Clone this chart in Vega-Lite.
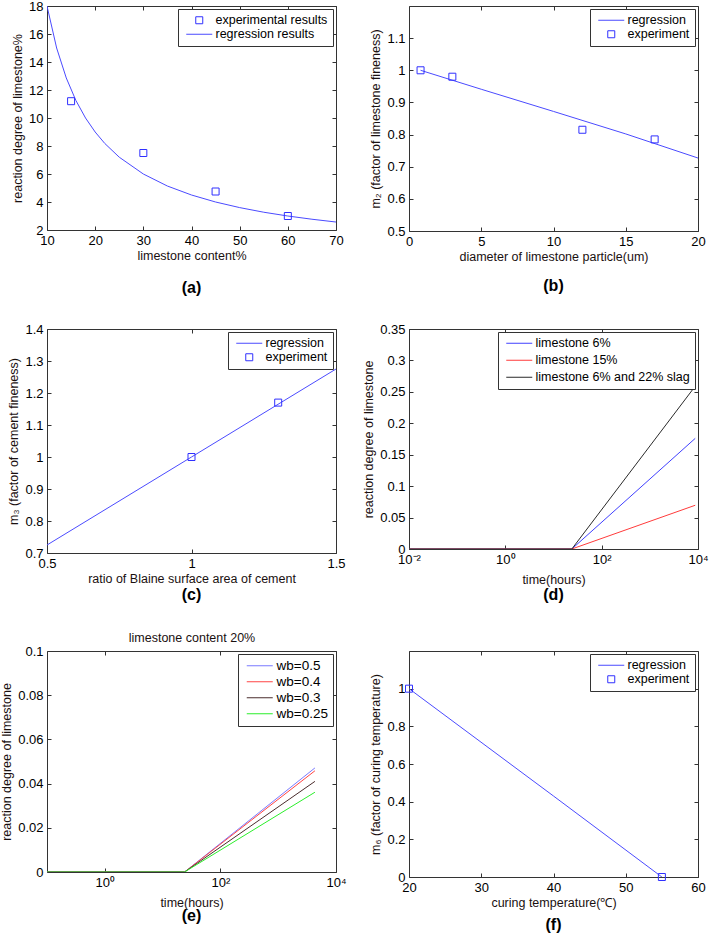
{
  "$schema": "https://vega.github.io/schema/vega-lite/v6.json",
  "background": "white",
  "padding": {"left": 0, "top": -1, "right": 0, "bottom": 0},
  "config": {
    "font": "Liberation Sans",
    "view": {"stroke": "#333333", "strokeWidth": 1},
    "axis": {
      "grid": false, "domain": false, "ticks": true, "tickSize": -4, "tickColor": "#333333",
      "labelFont": "Liberation Sans", "labelFontSize": 13, "labelColor": "#000000", "labelPadding": 8,
      "labelFlush": false, "labelOverlap": false, "labelBound": false,
      "titleFont": "Liberation Sans", "titleFontSize": 12.5, "titleFontWeight": "normal", "titleColor": "#1a1010", "titlePadding": 4
    },
    "axisX": {"titlePadding": 2},
    "legend": {
      "orient": "top-right", "offset": 3, "strokeColor": "#333333", "fillColor": "white", "padding": 5,
      "labelFont": "Liberation Sans", "labelFontSize": 12.5, "labelColor": "#000000",
      "symbolSize": 100, "symbolOffset": 10, "labelOffset": 10, "rowPadding": 1, "symbolStrokeWidth": 1,
      "symbolType": "M-2.6,0H2.6"
    },
    "title": {"font": "Liberation Sans", "color": "#000000"}
  },
  "datasets": {
    "a_reg": [
      {"x": 10, "y": 18, "s": "regression results"}, {"x": 12, "y": 15, "s": "regression results"},
      {"x": 14, "y": 12.86, "s": "regression results"}, {"x": 16, "y": 11.25, "s": "regression results"},
      {"x": 18, "y": 10, "s": "regression results"}, {"x": 20, "y": 9, "s": "regression results"},
      {"x": 22, "y": 8.18, "s": "regression results"}, {"x": 25, "y": 7.2, "s": "regression results"},
      {"x": 30, "y": 6, "s": "regression results"}, {"x": 35, "y": 5.14, "s": "regression results"},
      {"x": 40, "y": 4.5, "s": "regression results"}, {"x": 45, "y": 4, "s": "regression results"},
      {"x": 50, "y": 3.6, "s": "regression results"}, {"x": 55, "y": 3.27, "s": "regression results"},
      {"x": 60, "y": 3, "s": "regression results"}, {"x": 65, "y": 2.77, "s": "regression results"},
      {"x": 70, "y": 2.57, "s": "regression results"}
    ],
    "a_exp": [
      {"x": 15, "y": 11.2, "s": "experimental results"}, {"x": 30, "y": 7.5, "s": "experimental results"},
      {"x": 45, "y": 4.75, "s": "experimental results"}, {"x": 60, "y": 3.0, "s": "experimental results"}
    ],
    "b_reg": [
      {"x": 0.8, "y": 1.0, "s": "regression"}, {"x": 5, "y": 0.941, "s": "regression"},
      {"x": 10, "y": 0.872, "s": "regression"}, {"x": 15, "y": 0.802, "s": "regression"},
      {"x": 20, "y": 0.727, "s": "regression"}
    ],
    "b_exp": [
      {"x": 0.8, "y": 1.0, "s": "experiment"}, {"x": 3, "y": 0.98, "s": "experiment"},
      {"x": 12, "y": 0.815, "s": "experiment"}, {"x": 17, "y": 0.785, "s": "experiment"}
    ],
    "c_reg": [
      {"x": 0.5, "y": 0.725, "s": "regression"}, {"x": 1.0, "y": 1.0, "s": "regression"},
      {"x": 1.5, "y": 1.275, "s": "regression"}
    ],
    "c_exp": [
      {"x": 1.0, "y": 1.0, "s": "experiment"}, {"x": 1.3, "y": 1.17, "s": "experiment"}
    ],
    "d_lines": [
      {"t": 0.01, "v": 0, "s": "limestone 6%"}, {"t": 24, "v": 0, "s": "limestone 6%"}, {"t": 8760, "v": 0.176, "s": "limestone 6%"},
      {"t": 0.01, "v": 0, "s": "limestone 15%"}, {"t": 24, "v": 0, "s": "limestone 15%"}, {"t": 8760, "v": 0.0696, "s": "limestone 15%"},
      {"t": 0.01, "v": 0, "s": "limestone 6% and 22% slag"}, {"t": 24, "v": 0, "s": "limestone 6% and 22% slag"}, {"t": 8760, "v": 0.259, "s": "limestone 6% and 22% slag"}
    ],
    "e_lines": [
      {"t": 0.1, "v": 0, "s": "wb=0.5"}, {"t": 24, "v": 0, "s": "wb=0.5"}, {"t": 4320, "v": 0.0471, "s": "wb=0.5"},
      {"t": 0.1, "v": 0, "s": "wb=0.4"}, {"t": 24, "v": 0, "s": "wb=0.4"}, {"t": 4320, "v": 0.0458, "s": "wb=0.4"},
      {"t": 0.1, "v": 0, "s": "wb=0.3"}, {"t": 24, "v": 0, "s": "wb=0.3"}, {"t": 4320, "v": 0.041, "s": "wb=0.3"},
      {"t": 0.1, "v": 0, "s": "wb=0.25"}, {"t": 24, "v": 0, "s": "wb=0.25"}, {"t": 4320, "v": 0.0361, "s": "wb=0.25"}
    ],
    "f_reg": [
      {"x": 20, "y": 1.0, "s": "regression"}, {"x": 40, "y": 0.43, "s": "regression"},
      {"x": 55, "y": 0.0, "s": "regression"}
    ],
    "f_exp": [
      {"x": 20, "y": 1.0, "s": "experiment"}, {"x": 55, "y": 0.0, "s": "experiment"}
    ]
  },
  "columns": 2,
  "spacing": {"row": 98, "column": 73},
  "bounds": "flush",
  "align": "each",
  "resolve": {
    "scale": {"x": "independent", "y": "independent", "color": "independent", "shape": "independent"},
    "axis": {"x": "independent", "y": "independent"},
    "legend": {"color": "independent", "shape": "independent"}
  },
  "concat": [
    {
      "width": 289, "height": 224,
      "title": {"text": "(a)", "orient": "bottom", "fontSize": 16, "fontWeight": "bold", "frame": "group", "anchor": "middle", "offset": 18},
      "resolve": {"axis": {"x": "independent", "y": "independent"}},
      "layer": [
        {
          "data": {"name": "a_reg"},
          "mark": {"type": "line", "strokeWidth": 1, "clip": true},
          "encoding": {
            "x": {"field": "x", "type": "quantitative", "scale": {"domain": [10, 70], "nice": false, "zero": false}, "axis": {"values": [10, 20, 30, 40, 50, 60, 70], "title": "limestone content%"}},
            "y": {"field": "y", "type": "quantitative", "scale": {"domain": [2, 18], "nice": false, "zero": false}, "axis": {"values": [2, 4, 6, 8, 10, 12, 14, 16, 18], "title": "reaction degree of limestone%"}},
            "color": {"field": "s", "type": "nominal", "scale": {"domain": ["experimental results", "regression results"], "range": ["#3030ff", "#4b4bff"]}, "legend": {"title": null}}
          }
        },
        {
          "data": {"name": "a_exp"},
          "mark": {"type": "point", "filled": false, "size": 100, "strokeWidth": 1, "opacity": 1, "clip": true},
          "encoding": {
            "x": {"field": "x", "type": "quantitative", "axis": null},
            "y": {"field": "y", "type": "quantitative", "axis": null},
            "color": {"field": "s", "type": "nominal", "scale": {"domain": ["experimental results", "regression results"], "range": ["#3030ff", "#4b4bff"]}, "legend": {"title": null}},
            "shape": {"field": "s", "type": "nominal", "scale": {"domain": ["experimental results", "regression results"], "range": ["M-0.7,-0.7H0.7V0.7H-0.7Z", "M-2.6,0H2.6"]}, "legend": {"title": null}}
          }
        },
        {
          "data": {"name": "a_exp"},
          "mark": {"type": "point", "opacity": 0},
          "encoding": {
            "x": {"field": "x", "type": "quantitative", "axis": {"orient": "top", "labels": false, "title": null, "values": [10, 20, 30, 40, 50, 60, 70]}},
            "y": {"field": "y", "type": "quantitative", "axis": {"orient": "right", "labels": false, "title": null, "values": [2, 4, 6, 8, 10, 12, 14, 16, 18]}}
          }
        }
      ]
    },
    {
      "width": 289, "height": 225,
      "title": {"text": "(b)", "orient": "bottom", "fontSize": 16, "fontWeight": "bold", "frame": "group", "anchor": "middle", "offset": 15},
      "resolve": {"axis": {"x": "independent", "y": "independent"}},
      "layer": [
        {
          "data": {"name": "b_reg"},
          "mark": {"type": "line", "strokeWidth": 1, "clip": true},
          "encoding": {
            "x": {"field": "x", "type": "quantitative", "scale": {"domain": [0, 20], "nice": false, "zero": false}, "axis": {"values": [0, 5, 10, 15, 20], "title": "diameter of limestone particle(um)"}},
            "y": {"field": "y", "type": "quantitative", "scale": {"domain": [0.5, 1.2], "nice": false, "zero": false}, "axis": {"values": [0.5, 0.6, 0.7, 0.8, 0.9, 1.0, 1.1], "format": "~g", "title": "m₂ (factor of limestone fineness)"}},
            "color": {"field": "s", "type": "nominal", "scale": {"domain": ["regression", "experiment"], "range": ["#4b4bff", "#3030ff"]}, "legend": {"title": null}}
          }
        },
        {
          "data": {"name": "b_exp"},
          "mark": {"type": "point", "filled": false, "size": 100, "strokeWidth": 1, "opacity": 1, "clip": true},
          "encoding": {
            "x": {"field": "x", "type": "quantitative", "axis": null},
            "y": {"field": "y", "type": "quantitative", "axis": null},
            "color": {"field": "s", "type": "nominal", "scale": {"domain": ["regression", "experiment"], "range": ["#4b4bff", "#3030ff"]}, "legend": {"title": null}},
            "shape": {"field": "s", "type": "nominal", "scale": {"domain": ["regression", "experiment"], "range": ["M-2.6,0H2.6", "M-0.7,-0.7H0.7V0.7H-0.7Z"]}, "legend": {"title": null}}
          }
        },
        {
          "data": {"name": "b_exp"},
          "mark": {"type": "point", "opacity": 0},
          "encoding": {
            "x": {"field": "x", "type": "quantitative", "axis": {"orient": "top", "labels": false, "title": null, "values": [0, 5, 10, 15, 20]}},
            "y": {"field": "y", "type": "quantitative", "axis": {"orient": "right", "labels": false, "title": null, "values": [0.5, 0.6, 0.7, 0.8, 0.9, 1.0, 1.1]}}
          }
        }
      ]
    },
    {
      "width": 289, "height": 224,
      "title": {"text": "(c)", "orient": "bottom", "fontSize": 16, "fontWeight": "bold", "frame": "group", "anchor": "middle", "offset": 2},
      "resolve": {"axis": {"x": "independent", "y": "independent"}},
      "layer": [
        {
          "data": {"name": "c_reg"},
          "mark": {"type": "line", "strokeWidth": 1, "clip": true},
          "encoding": {
            "x": {"field": "x", "type": "quantitative", "scale": {"domain": [0.5, 1.5], "nice": false, "zero": false}, "axis": {"values": [0.5, 1, 1.5], "format": "~g", "title": "ratio of Blaine surface area of cement"}},
            "y": {"field": "y", "type": "quantitative", "scale": {"domain": [0.7, 1.4], "nice": false, "zero": false}, "axis": {"values": [0.7, 0.8, 0.9, 1.0, 1.1, 1.2, 1.3, 1.4], "format": "~g", "title": "m₃ (factor of cement fineness)"}},
            "color": {"field": "s", "type": "nominal", "scale": {"domain": ["regression", "experiment"], "range": ["#4b4bff", "#3030ff"]}, "legend": {"title": null}}
          }
        },
        {
          "data": {"name": "c_exp"},
          "mark": {"type": "point", "filled": false, "size": 100, "strokeWidth": 1, "opacity": 1, "clip": true},
          "encoding": {
            "x": {"field": "x", "type": "quantitative", "axis": null},
            "y": {"field": "y", "type": "quantitative", "axis": null},
            "color": {"field": "s", "type": "nominal", "scale": {"domain": ["regression", "experiment"], "range": ["#4b4bff", "#3030ff"]}, "legend": {"title": null}},
            "shape": {"field": "s", "type": "nominal", "scale": {"domain": ["regression", "experiment"], "range": ["M-2.6,0H2.6", "M-0.7,-0.7H0.7V0.7H-0.7Z"]}, "legend": {"title": null}}
          }
        },
        {
          "data": {"name": "c_exp"},
          "mark": {"type": "point", "opacity": 0},
          "encoding": {
            "x": {"field": "x", "type": "quantitative", "axis": {"orient": "top", "labels": false, "title": null, "values": [0.5, 1, 1.5]}},
            "y": {"field": "y", "type": "quantitative", "axis": {"orient": "right", "labels": false, "title": null, "values": [0.7, 0.8, 0.9, 1.0, 1.1, 1.2, 1.3, 1.4]}}
          }
        }
      ]
    },
    {
      "width": 289, "height": 220,
      "title": {"text": "(d)", "orient": "bottom", "fontSize": 16, "fontWeight": "bold", "frame": "group", "anchor": "middle", "offset": 1},
      "resolve": {"axis": {"x": "independent", "y": "independent"}},
      "layer": [
        {
          "data": {"name": "d_lines"},
          "mark": {"type": "line", "strokeWidth": 1, "clip": true},
          "encoding": {
            "x": {"field": "t", "type": "quantitative", "scale": {"type": "log", "domain": [0.01, 10000], "nice": false}, "axis": {"values": [0.01, 1, 100, 10000], "labelExpr": "datum.value < 0.1 ? '10⁻²' : datum.value < 10 ? '10⁰' : datum.value < 1000 ? '10²' : '10⁴'", "title": "time(hours)", "titlePadding": 7}},
            "y": {"field": "v", "type": "quantitative", "scale": {"domain": [0, 0.35], "nice": false, "zero": false}, "axis": {"values": [0, 0.05, 0.1, 0.15, 0.2, 0.25, 0.3, 0.35], "format": "~g", "title": "reaction degree of limestone"}},
            "color": {"field": "s", "type": "nominal", "sort": null, "scale": {"domain": ["limestone 6%", "limestone 15%", "limestone 6% and 22% slag"], "range": ["#4040ff", "#ff3b3b", "#2a2a2a"]}, "legend": {"title": null, "rowPadding": 4}}
          }
        },
        {
          "data": {"name": "d_lines"},
          "mark": {"type": "point", "opacity": 0},
          "encoding": {
            "x": {"field": "t", "type": "quantitative", "axis": {"orient": "top", "labels": false, "title": null, "values": [0.01, 1, 100, 10000]}},
            "y": {"field": "v", "type": "quantitative", "axis": {"orient": "right", "labels": false, "title": null, "values": [0, 0.05, 0.1, 0.15, 0.2, 0.25, 0.3, 0.35]}}
          }
        }
      ]
    },
    {
      "width": 289, "height": 221,
      "title": {"text": "(e)", "orient": "bottom", "fontSize": 16, "fontWeight": "bold", "frame": "group", "anchor": "middle", "offset": -1},
      "resolve": {"axis": {"x": "independent", "y": "independent"}},
      "layer": [
        {
          "data": {"name": "e_lines"},
          "mark": {"type": "line", "strokeWidth": 1, "clip": true},
          "encoding": {
            "x": {"field": "t", "type": "quantitative", "scale": {"type": "log", "domain": [0.1, 10000], "nice": false}, "axis": {"values": [1, 100, 10000], "labelExpr": "datum.value < 10 ? '10⁰' : datum.value < 1000 ? '10²' : '10⁴'", "title": "time(hours)", "titlePadding": 7}},
            "y": {"field": "v", "type": "quantitative", "scale": {"domain": [0, 0.1], "nice": false, "zero": false}, "axis": {"values": [0, 0.02, 0.04, 0.06, 0.08, 0.1], "format": "~g", "title": "reaction degree of limestone"}},
            "color": {"field": "s", "type": "nominal", "sort": null, "scale": {"domain": ["wb=0.5", "wb=0.4", "wb=0.3", "wb=0.25"], "range": ["#7a7aff", "#ff4444", "#4a2c2c", "#2bee2b"]}, "legend": {"title": null, "rowPadding": 1, "labelFontSize": 13.5}}
          }
        },
        {
          "data": {"name": "e_lines"},
          "mark": {"type": "point", "opacity": 0},
          "encoding": {
            "x": {"field": "t", "type": "quantitative", "axis": {"orient": "top", "labels": false, "title": "limestone content 20%", "titlePadding": 6, "values": [1, 100, 10000]}},
            "y": {"field": "v", "type": "quantitative", "axis": {"orient": "right", "labels": false, "title": null, "values": [0, 0.02, 0.04, 0.06, 0.08, 0.1]}}
          }
        }
      ]
    },
    {
      "width": 289, "height": 226,
      "title": {"text": "(f)", "orient": "bottom", "fontSize": 16, "fontWeight": "bold", "frame": "group", "anchor": "middle", "offset": 8},
      "resolve": {"axis": {"x": "independent", "y": "independent"}},
      "layer": [
        {
          "data": {"name": "f_reg"},
          "mark": {"type": "line", "strokeWidth": 1, "clip": true},
          "encoding": {
            "x": {"field": "x", "type": "quantitative", "scale": {"domain": [20, 60], "nice": false, "zero": false}, "axis": {"values": [20, 30, 40, 50, 60], "title": "curing temperature(℃)"}},
            "y": {"field": "y", "type": "quantitative", "scale": {"domain": [0, 1.2], "nice": false, "zero": false}, "axis": {"values": [0, 0.2, 0.4, 0.6, 0.8, 1.0], "format": "~g", "title": "m₆ (factor of curing temperature)"}},
            "color": {"field": "s", "type": "nominal", "scale": {"domain": ["regression", "experiment"], "range": ["#4b4bff", "#3030ff"]}, "legend": {"title": null}}
          }
        },
        {
          "data": {"name": "f_exp"},
          "mark": {"type": "point", "filled": false, "size": 100, "strokeWidth": 1, "opacity": 1, "clip": false},
          "encoding": {
            "x": {"field": "x", "type": "quantitative", "axis": null},
            "y": {"field": "y", "type": "quantitative", "axis": null},
            "color": {"field": "s", "type": "nominal", "scale": {"domain": ["regression", "experiment"], "range": ["#4b4bff", "#3030ff"]}, "legend": {"title": null}},
            "shape": {"field": "s", "type": "nominal", "scale": {"domain": ["regression", "experiment"], "range": ["M-2.6,0H2.6", "M-0.7,-0.7H0.7V0.7H-0.7Z"]}, "legend": {"title": null}}
          }
        },
        {
          "data": {"name": "f_exp"},
          "mark": {"type": "point", "opacity": 0},
          "encoding": {
            "x": {"field": "x", "type": "quantitative", "axis": {"orient": "top", "labels": false, "title": null, "values": [20, 30, 40, 50, 60]}},
            "y": {"field": "y", "type": "quantitative", "axis": {"orient": "right", "labels": false, "title": null, "values": [0, 0.2, 0.4, 0.6, 0.8, 1.0]}}
          }
        }
      ]
    }
  ]
}
